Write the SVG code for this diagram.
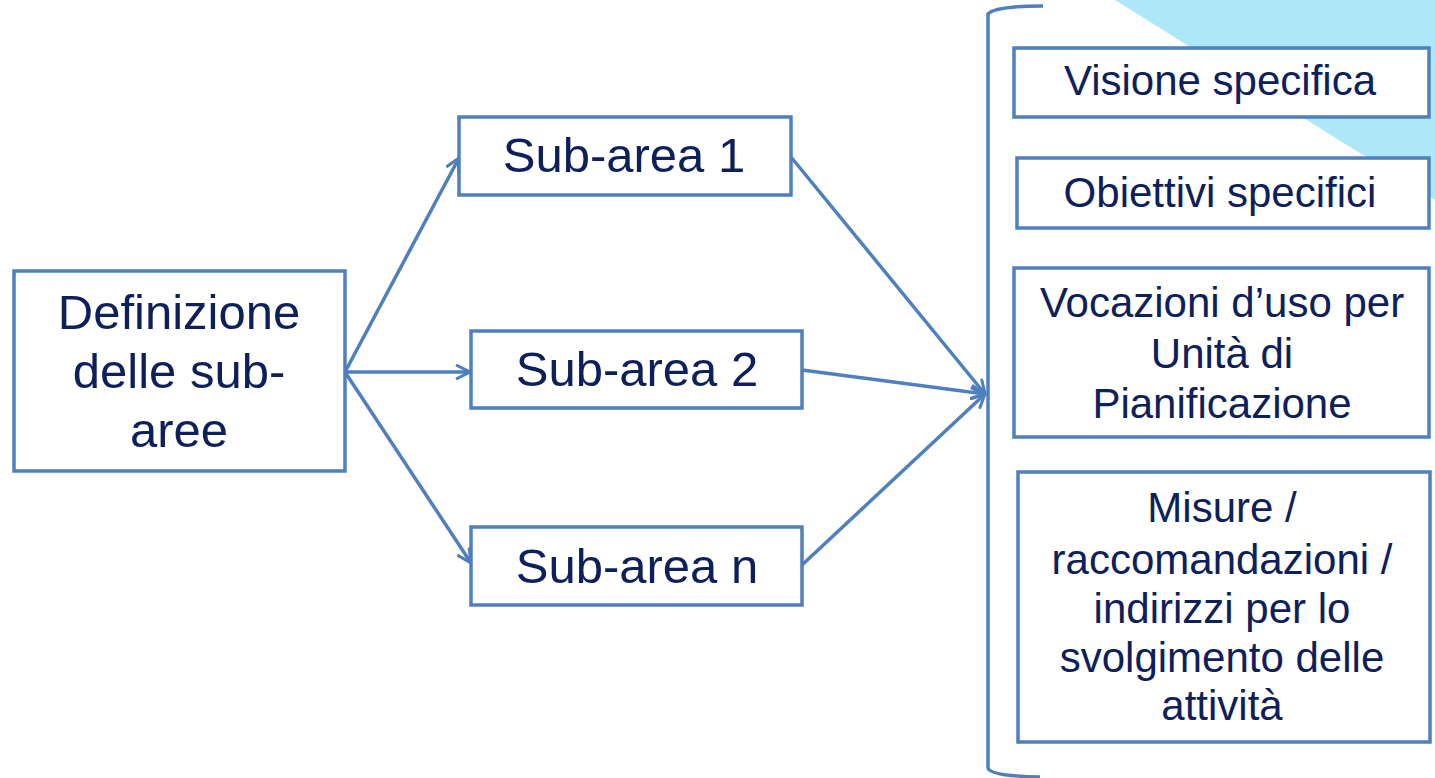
<svg xmlns="http://www.w3.org/2000/svg" width="1435" height="778" viewBox="0 0 1435 778">
<defs>
<style>
.box{fill:#ffffff;stroke:#4f7fbd;stroke-width:3.5}
.t{font-family:"Liberation Sans",Arial,sans-serif;fill:#0e205a;text-anchor:middle}
.big{font-size:49px}
.sm{font-size:42px}
.con{fill:none;stroke:#4f7fbd;stroke-width:3.5}
</style>
<marker id="arr" viewBox="0 0 16 16" refX="15" refY="8" markerWidth="16" markerHeight="16" markerUnits="userSpaceOnUse" orient="auto">
<path d="M1,1 L15,8 L1,15" fill="none" stroke="#4f7fbd" stroke-width="3"/>
</marker>
</defs>
<rect width="1435" height="778" fill="#ffffff"/>
<polygon points="1115,0 1435,0 1435,200" fill="#aee7f7"/>

<g id="connectors">
<line class="con" x1="345" y1="372" x2="459" y2="158" marker-end="url(#arr)"/>
<line class="con" x1="345" y1="372" x2="470" y2="372" marker-end="url(#arr)"/>
<line class="con" x1="345" y1="372" x2="471" y2="563" marker-end="url(#arr)"/>
<line class="con" x1="791" y1="157" x2="985" y2="394" marker-end="url(#arr)"/>
<line class="con" x1="802" y1="370" x2="985" y2="394" marker-end="url(#arr)"/>
<line class="con" x1="802" y1="565" x2="985" y2="394" marker-end="url(#arr)"/>
</g>

<g id="bracket">
<path class="con" d="M1043,6 Q995,6 988,14 L988,768 Q990,776 1040,777"/>
</g>

<g id="node-definizione">
<rect class="box" x="14" y="271" width="331" height="200"/>
<text class="t big" x="179" y="329">Definizione</text>
<text class="t big" x="179" y="388">delle sub-</text>
<text class="t big" x="179" y="447">aree</text>
</g>

<g id="node-subarea1">
<rect class="box" x="459" y="117" width="332" height="78"/>
<text class="t big" x="624" y="172">Sub-area 1</text>
</g>

<g id="node-subarea2">
<rect class="box" x="471" y="331" width="331" height="77"/>
<text class="t big" x="637" y="386">Sub-area 2</text>
</g>

<g id="node-subarean">
<rect class="box" x="471" y="527" width="331" height="78"/>
<text class="t big" x="637" y="583">Sub-area n</text>
</g>

<g id="node-visione">
<rect class="box" x="1014" y="48" width="415" height="69"/>
<text class="t sm" x="1220" y="95">Visione specifica</text>
</g>

<g id="node-obiettivi">
<rect class="box" x="1017" y="158" width="412" height="70"/>
<text class="t sm" x="1220" y="207">Obiettivi specifici</text>
</g>

<g id="node-vocazioni">
<rect class="box" x="1014" y="268" width="415" height="169"/>
<text class="t sm" x="1222" y="317">Vocazioni d’uso per</text>
<text class="t sm" x="1222" y="368">Unità di</text>
<text class="t sm" x="1222" y="418">Pianificazione</text>
</g>

<g id="node-misure">
<rect class="box" x="1018" y="472" width="412" height="270"/>
<text class="t sm" x="1222" y="522">Misure /</text>
<text class="t sm" x="1222" y="574">raccomandazioni /</text>
<text class="t sm" x="1222" y="623">indirizzi per lo</text>
<text class="t sm" x="1222" y="672">svolgimento delle</text>
<text class="t sm" x="1222" y="720">attività</text>
</g>
</svg>
